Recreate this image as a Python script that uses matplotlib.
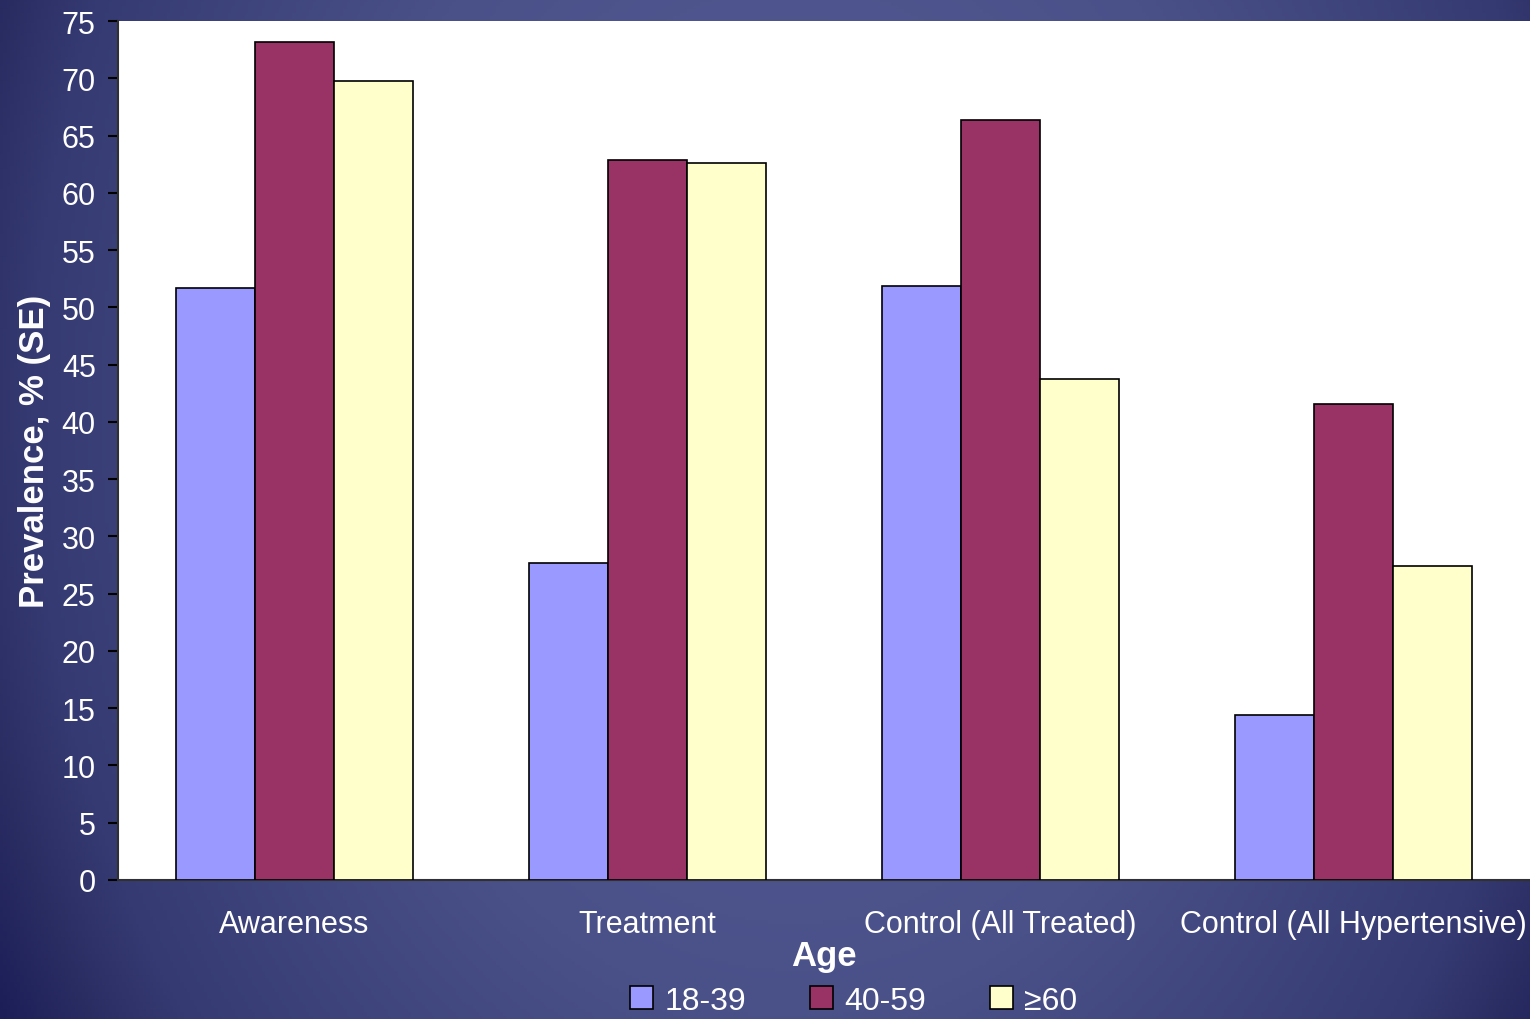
import numpy as np
import matplotlib
matplotlib.use("Agg")
from matplotlib import pyplot as plt

plt.rcParams['font.family'] = ['Liberation Sans', 'DejaVu Sans']

categories = ['Awareness', 'Treatment', 'Control (All Treated)', 'Control (All Hypertensive)']
age_groups = ['18-39', '40-59', '\u226560']
age_18_39 = [51.7, 27.7, 51.9, 14.4]
age_40_59 = [73.2, 62.9, 66.4, 41.6]
age_60_up = [69.8, 62.6, 43.7, 27.4]
colors = ['#9999ff', '#993366', '#ffffcc']

fig = plt.figure(figsize=(15.3, 10.2), dpi=100)

# slide-style background: lighter blue near the middle, darker toward the corners
bg = fig.add_axes([0, 0, 1, 1], zorder=-10)
gy, gx = np.mgrid[0:1:300j, 0:1:450j]
r = np.sqrt(((gx - 0.52) / 0.5) ** 2 + ((gy - 0.6) / 1.0) ** 2)
stops = [0.0, 0.6, 1.0, 1.1, 1.2]
stop_cols = np.array([[0x57, 0x5e, 0x98], [0x4a, 0x50, 0x88], [0x35, 0x3a, 0x72],
                      [0x2a, 0x2d, 0x62], [0x1c, 0x1e, 0x58]]) / 255
img = np.dstack([np.interp(r, stops, stop_cols[:, c]) for c in range(3)])
bg.imshow(img, extent=[0, 1, 0, 1], origin='lower', aspect='auto')
bg.axis('off')

ax = fig.add_axes([0.0771, 0.1363, 0.9229, 0.8421])
ax.set_facecolor('white')

x = np.arange(len(categories))
w = 0.224
for i, (vals, lab) in enumerate(zip([age_18_39, age_40_59, age_60_up], age_groups)):
    ax.bar(x + (i - 1) * w, vals, width=w, color=colors[i], edgecolor='black',
           linewidth=1.2, label=lab, zorder=3)

ax.set_xlim(-0.5, 3.5)
ax.set_ylim(0, 75)
ax.set_yticks(np.arange(0, 76, 5))
ax.set_xticks(x)
ax.set_xticklabels(categories)
ax.tick_params(axis='y', colors='black', labelcolor='white', labelsize=22,
               length=7, width=1.5, direction='out', pad=9)
ax.tick_params(axis='x', labelcolor='white', labelsize=22, length=0, pad=21)

for s in ['top', 'right']:
    ax.spines[s].set_visible(False)
ax.spines['left'].set_color('#303030')
ax.spines['left'].set_linewidth(1.5)
ax.spines['bottom'].set_color('#303030')
ax.spines['bottom'].set_linewidth(1.5)

ax.set_ylabel('Prevalence, % (SE)', color='white', fontsize=25, fontweight='bold', labelpad=8)
ax.set_xlabel('Age', color='white', fontsize=25, fontweight='bold', labelpad=0)

leg = fig.legend(loc='center', bbox_to_anchor=(0.558, 0.018), ncol=3, frameon=False,
                 fontsize=23, labelcolor='white', handlelength=0.72, handleheight=0.72,
                 handletextpad=0.35, columnspacing=2.0, borderpad=0.1)
for h in leg.legend_handles:
    h.set_linewidth(1.2)

fig.savefig('out.png', dpi=100)
